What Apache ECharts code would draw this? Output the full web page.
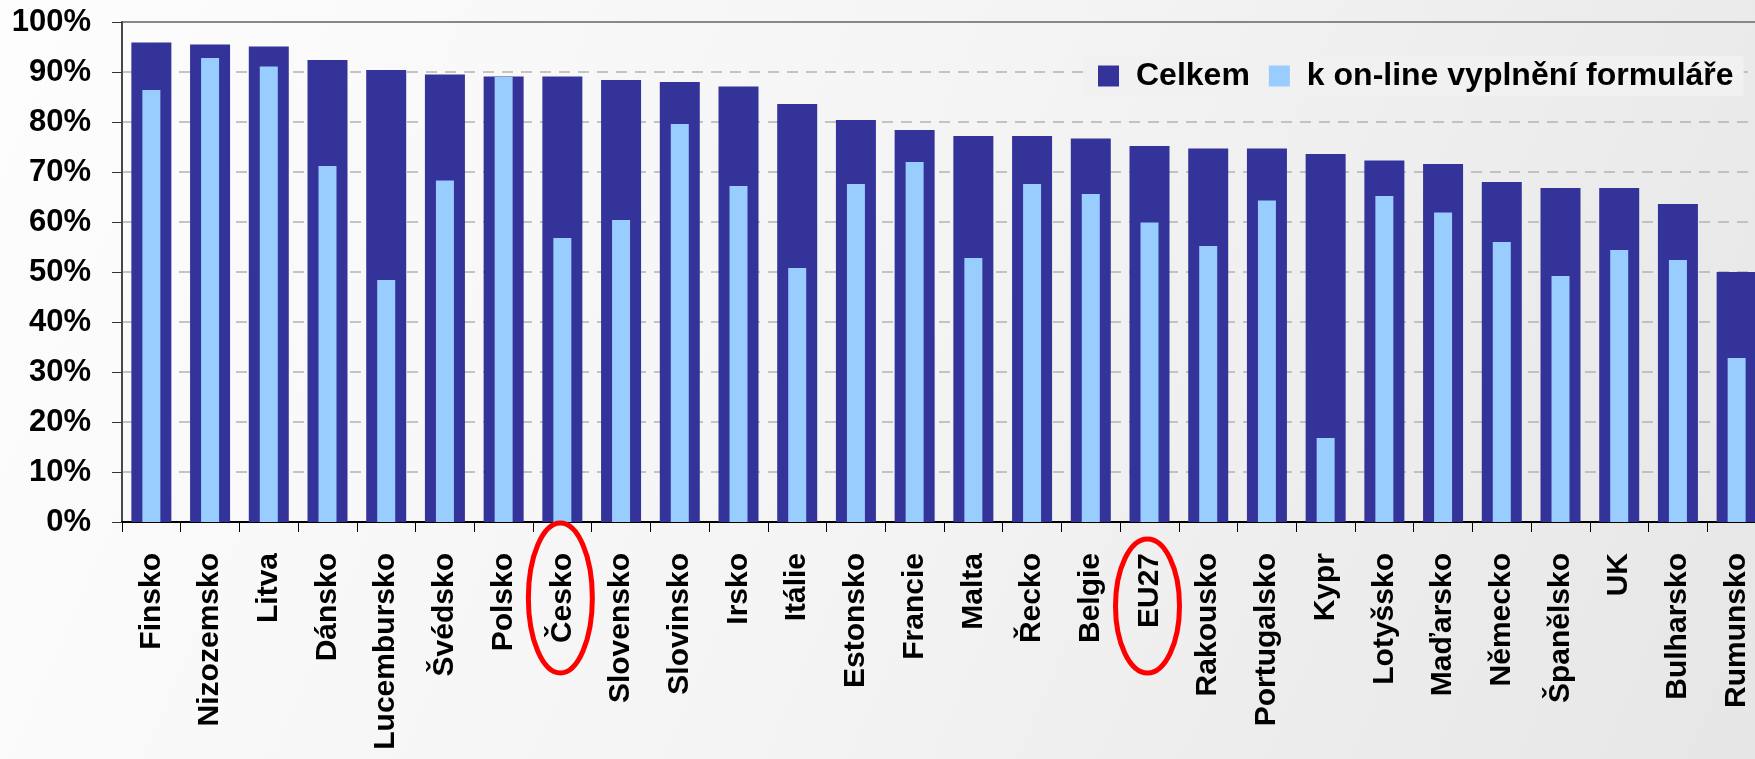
<!DOCTYPE html>
<html>
<head>
<meta charset="utf-8">
<script src="https://cdn.jsdelivr.net/npm/echarts@6/dist/echarts.min.js"></script>
<style>
  html, body { margin: 0; padding: 0; }
  #chart { width: 1755px; height: 759px; }
</style>
</head>
<body>
<div id="chart"></div>
<script>
// data
const countries = ['Finsko', 'Nizozemsko', 'Litva', 'Dánsko', 'Lucembursko', 'Švédsko', 'Polsko', 'Česko',
  'Slovensko', 'Slovinsko', 'Irsko', 'Itálie', 'Estonsko', 'Francie', 'Malta', 'Řecko', 'Belgie', 'EU27',
  'Rakousko', 'Portugalsko', 'Kypr', 'Lotyšsko', 'Maďarsko', 'Německo', 'Španělsko', 'UK', 'Bulharsko', 'Rumunsko']
const celkem = [95.9, 95.5, 95.1, 92.4, 90.4, 89.5, 89.1, 89.1, 88.4, 88.0, 87.1, 83.6, 80.4, 78.4, 77.2, 77.2,
  76.7, 75.2, 74.7, 74.7, 73.6, 72.3, 71.6, 68.0, 66.8, 66.8, 63.6, 50.0]
const online = [86.4, 92.8, 91.1, 71.2, 48.4, 68.3, 89.0, 56.8, 60.4, 79.6, 67.2, 50.8, 67.6, 72.0, 52.8, 67.6,
  65.6, 59.9, 55.2, 64.3, 16.8, 65.2, 61.9, 56.0, 49.2, 54.4, 52.4, 32.8]
const seriesNames = ['Celkem', 'k on-line vyplnění formuláře']
const yMin = 0
const yMax = 100
const yStep = 10
// categories circled in red
const circled = ['Česko', 'EU27']

const font = "'Liberation Sans', Arial, sans-serif"
const chart = echarts.init(document.getElementById('chart'))

const catAxis = {
  type: 'category',
  data: countries,
  boundaryGap: true,
  axisLine: {lineStyle: {color: '#000', width: 2}},
  axisTick: {show: true, length: 10, lineStyle: {color: '#000', width: 1}},
  axisLabel: {
    rotate: 90,
    interval: 0,
    margin: 31,
    color: '#000',
    fontFamily: font,
    fontWeight: 'bold',
    fontSize: 30
  }
}

const option = {
  backgroundColor: {
    type: 'linear', x: 0, y: 0, x2: 1, y2: 1,
    colorStops: [{offset: 0, color: '#fdfdfd'}, {offset: 0.5, color: '#f4f4f4'}, {offset: 1, color: '#e6e6e6'}]
  },
  animation: false,
  grid: {
    left: 122,
    width: 1644,
    top: 22,
    bottom: 237,
    outerBoundsMode: 'none',
    show: true,
    borderColor: '#888',
    borderWidth: 2,
    backgroundColor: 'transparent'
  },
  legend: {
    data: seriesNames,
    icon: 'rect',
    left: 1083,
    top: 56,
    width: 645,
    padding: [4, 10, 4, 15],
    itemWidth: 21,
    itemHeight: 21,
    itemGap: 19,
    backgroundColor: '#f1f1f1',
    textStyle: {fontFamily: font, fontWeight: 'bold', fontSize: 32, color: '#000', padding: [0, 0, 0, 12]}
  },
  xAxis: [
    catAxis,
    {type: 'category', data: countries, show: false}
  ],
  yAxis: {
    type: 'value',
    min: yMin,
    max: yMax,
    interval: yStep,
    axisLine: {show: true, lineStyle: {color: '#333', width: 1.5}},
    axisTick: {show: true, length: 10, lineStyle: {color: '#333'}},
    axisLabel: {
      margin: 31,
      color: '#000',
      fontFamily: font,
      fontWeight: 'bold',
      fontSize: 31,
      formatter: '{value}%'
    },
    splitLine: {
      show: true,
      showMinLine: false,
      showMaxLine: false,
      lineStyle: {color: '#b3b3b3', width: 1.5, type: [11, 8]}
    }
  },
  series: [
    {
      name: seriesNames[0],
      type: 'bar',
      xAxisIndex: 0,
      barWidth: 40,
      itemStyle: {color: '#333399'},
      data: celkem
    },
    {
      name: seriesNames[1],
      type: 'bar',
      xAxisIndex: 1,
      barWidth: 18,
      itemStyle: {color: '#99ccff'},
      data: online
    }
  ]
}

chart.setOption(option)

// red ellipses round the highlighted labels
const axisY = chart.convertToPixel({yAxisIndex: 0}, 0)
chart.setOption({
  graphic: circled.map(function (name) {
    const x = chart.convertToPixel({xAxisIndex: 0}, name)
    const ry = name.length > 4 ? 75 : 67
    return {
      type: 'ellipse',
      shape: {cx: x - 2, cy: axisY + 151 - ry, rx: 32, ry: ry},
      style: {fill: 'none', stroke: '#ff0000', lineWidth: 5},
      z: 100
    }
  })
})
</script>
</body>
</html>
